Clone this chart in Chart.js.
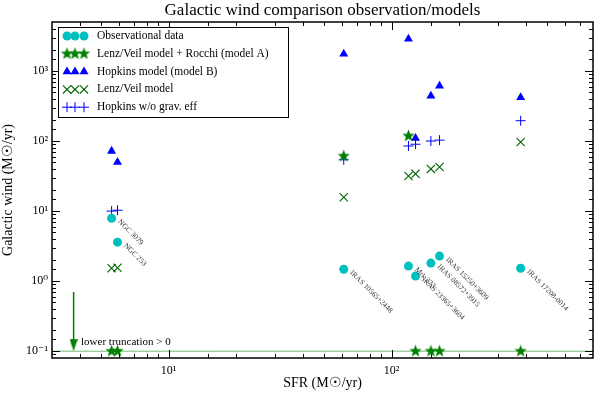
<!DOCTYPE html>
<html>
<head>
<meta charset="utf-8">
<script src="https://cdn.jsdelivr.net/npm/chart.js@4.4.1/dist/chart.umd.min.js"></script>
<style>
  html, body { margin: 0; padding: 0; background: #fff; }
  #wrap { width: 600px; height: 394px; }
</style>
</head>
<body>
<div id="wrap"><canvas id="chart-wind"></canvas></div>
<script>
/* SFR of the sample (Msun/yr) and the wind rates */
const sfr = [5.55, 5.9, 61, 119, 128, 150, 164, 379]
const galaxyNames = ['NGC 3079', 'NGC 253', 'IRAS 10565+2448', 'Mrk 273', 'IRAS 23365+3604',
                     'IRAS 08572+3915', 'IRAS 15250+3609', 'IRAS 17208-0014']
const obsWind = [7.9, 3.6, 1.48, 1.64, 1.18, 1.81, 2.28, 1.53]
const modelA = [0.1, 0.1, 61, 118, 0.1, 0.1, 0.1, 0.1]
const modelB = [72, 50, 1750, 2870, 110, 440, 610, 420]
const lenzVeil = [1.53, 1.55, 15.8, 31.6, 34, 40, 42.6, 97]
const hopkinsNoGrav = [10, 10.3, 54, 85, 90, 100, 103, 195]

const seriesNames = ['Observational data', 'Lenz/Veil model + Rocchi (model A)',
                     'Hopkins model (model B)', 'Lenz/Veil model', 'Hopkins w/o grav. eff']

/* lower truncation line and arrow */
const floorLine = [{ x: 3, y: 0.1 }, { x: 800, y: 0.1 }]
const arrowShaft = [{ x: 3.75, y: 0.7 }, { x: 3.75, y: 0.13 }]
const arrowHead = [{ x: 3.75, y: 0.122 }]
const limitNote = { x: 4.05, y: 0.134, text: 'lower truncation > 0' }

const xMajorTicks = [10, 100]
const xTickLabels = ['10¹', '10²']
const yMajorTicks = [0.1, 1, 10, 100, 1000]
const yTickLabels = ['10⁻¹', '10⁰', '10¹', '10²', '10³']

const serif = '"Liberation Serif", "DejaVu Serif", serif'

function makeStar(r, color) {
    const c = document.createElement('canvas')
    const s = Math.ceil(r * 2) + 2
    c.width = c.height = s
    const g = c.getContext('2d')
    g.fillStyle = color
    g.beginPath()
    for (let k = 0; k < 10; k++) {
        const rr = k % 2 ? r * 0.42 : r
        const a = -Math.PI / 2 + k * Math.PI / 5
        g.lineTo(s / 2 + rr * Math.cos(a), s / 2 + rr * Math.sin(a))
    }
    g.closePath()
    g.fill()
    return c
}

function makeArrowHead(w, h, color) {
    const c = document.createElement('canvas')
    c.width = w; c.height = h * 2
    const g = c.getContext('2d')
    g.fillStyle = color
    g.beginPath()
    g.moveTo(0, h / 2); g.lineTo(w, h / 2); g.lineTo(w / 2, h * 1.5)
    g.closePath()
    g.fill()
    return c
}

function tickLabel(value, majors, labels) {
    const i = majors.findIndex(t => Math.abs(t - value) / t < 1e-6)
    return i >= 0 ? labels[i] : ''
}

const pts = arr => sfr.map((x, i) => ({ x: x, y: arr[i] }))

/* frame, inward ticks on all sides, title, labels, legend */
const decorations = {
    id: 'decorations',
    afterDatasetsDraw(chart) {
        const ctx = chart.ctx
        const a = chart.chartArea
        const xs = chart.scales.x, ys = chart.scales.y

        // galaxy names, rotated
        const meta = chart.getDatasetMeta(0)
        ctx.save()
        ctx.fillStyle = '#333'
        ctx.font = '7.5px ' + serif
        ctx.textBaseline = 'middle'
        meta.data.forEach((p, i) => {
            ctx.save()
            ctx.translate(p.x + 6, p.y + 1)
            ctx.rotate(Math.PI / 4)
            ctx.fillText(galaxyNames[i], 2, 0)
            ctx.restore()
        })
        ctx.restore()

        // note next to the arrow
        ctx.save()
        ctx.fillStyle = '#000'
        ctx.font = '11px ' + serif
        ctx.textBaseline = 'middle'
        ctx.fillText(limitNote.text, xs.getPixelForValue(limitNote.x), ys.getPixelForValue(limitNote.y))
        ctx.restore()

        // ticks
        ctx.save()
        ctx.strokeStyle = '#000'
        ctx.lineWidth = 1
        xs.ticks.forEach(t => {
            const px = Math.round(xs.getPixelForValue(t.value)) + 0.5
            if (px < a.left + 1 || px > a.right - 1) return
            const len = xMajorTicks.some(m => Math.abs(m - t.value) / m < 1e-6) ? 8 : 4
            ctx.beginPath()
            ctx.moveTo(px, a.bottom); ctx.lineTo(px, a.bottom - len)
            ctx.moveTo(px, a.top); ctx.lineTo(px, a.top + len)
            ctx.stroke()
        })
        ys.ticks.forEach(t => {
            const py = Math.round(ys.getPixelForValue(t.value)) + 0.5
            if (py < a.top + 1 || py > a.bottom - 1) return
            const len = yMajorTicks.some(m => Math.abs(m - t.value) / m < 1e-6) ? 8 : 4
            ctx.beginPath()
            ctx.moveTo(a.left, py); ctx.lineTo(a.left + len, py)
            ctx.moveTo(a.right, py); ctx.lineTo(a.right - len, py)
            ctx.stroke()
        })
        // frame
        ctx.lineWidth = 1.5
        ctx.strokeRect(a.left, a.top, a.right - a.left, a.bottom - a.top)
        ctx.restore()

        // title
        ctx.save()
        ctx.fillStyle = '#000'
        ctx.font = '17px ' + serif
        ctx.textAlign = 'center'
        ctx.textBaseline = 'middle'
        ctx.fillText('Galactic wind comparison observation/models', (a.left + a.right) / 2, 11)
        ctx.restore()

        // legend
        const box = { x: a.left + 6, y: a.top + 5, w: 230, h: 90 }
        ctx.save()
        ctx.fillStyle = '#fff'
        ctx.fillRect(box.x, box.y, box.w, box.h)
        ctx.strokeStyle = '#000'
        ctx.lineWidth = 1
        ctx.strokeRect(box.x + 0.5, box.y + 0.5, box.w, box.h)
        ctx.font = '11.5px ' + serif
        ctx.textBaseline = 'middle'
        seriesNames.forEach((name, i) => {
            const ds = chart.data.datasets[i]
            const yy = box.y + 9 + i * 17.8
            ;[9, 17, 26].forEach(dx => {
                ctx.fillStyle = ds.backgroundColor
                ctx.strokeStyle = ds.borderColor
                ctx.lineWidth = ds.borderWidth
                Chart.helpers.drawPoint(ctx, {
                    pointStyle: ds.pointStyle, radius: ds.pointRadius,
                    rotation: 0, borderWidth: ds.borderWidth
                }, box.x + dx, yy)
            })
            ctx.fillStyle = '#000'
            ctx.fillText(name, box.x + 39, yy)
        })
        ctx.restore()
    }
}

const green = '#008000'
const darkGreen = '#006400'
const blue = '#0000ff'
const cyan = '#00bfbf'

new Chart(document.getElementById('chart-wind'), {
    type: 'scatter',
    data: {
        datasets: [
            { label: seriesNames[0], data: pts(obsWind), pointStyle: 'circle', pointRadius: 4.5,
              backgroundColor: cyan, borderColor: cyan, borderWidth: 0 },
            { label: seriesNames[1], data: pts(modelA), pointStyle: makeStar(6.5, green), pointRadius: 6,
              backgroundColor: green, borderColor: green, borderWidth: 0 },
            { label: seriesNames[2], data: pts(modelB), pointStyle: 'triangle', pointRadius: 5.2,
              backgroundColor: blue, borderColor: blue, borderWidth: 0 },
            { label: seriesNames[3], data: pts(lenzVeil), pointStyle: 'crossRot', pointRadius: 5.8,
              backgroundColor: darkGreen, borderColor: darkGreen, borderWidth: 1.1 },
            { label: seriesNames[4], data: pts(hopkinsNoGrav), pointStyle: 'cross', pointRadius: 5,
              backgroundColor: blue, borderColor: blue, borderWidth: 1 },
            { data: floorLine, showLine: true, pointRadius: 0, borderColor: 'rgba(0,128,0,0.55)',
              borderWidth: 1 },
            { data: arrowShaft, showLine: true, pointRadius: 0, borderColor: green, borderWidth: 1.5 },
            { data: arrowHead, pointStyle: makeArrowHead(8, 12, green), pointRadius: 6,
              backgroundColor: green, borderColor: green }
        ]
    },
    options: {
        responsive: true,
        maintainAspectRatio: false,
        animation: false,
        layout: { padding: { top: 22, right: 5, left: 0, bottom: 0 } },
        plugins: {
            legend: { display: false },
            tooltip: { enabled: false },
            title: { display: false }
        },
        scales: {
            x: {
                type: 'logarithmic', min: 3, max: 800,
                grid: { display: false, drawTicks: false },
                border: { display: false },
                ticks: {
                    autoSkip: false, maxRotation: 0, padding: 6,
                    font: { family: serif, size: 12 }, color: '#000',
                    callback: v => tickLabel(v, xMajorTicks, xTickLabels)
                },
                title: { display: true, text: 'SFR (M☉/yr)', color: '#000',
                         font: { family: serif, size: 14 }, padding: { top: 0, bottom: 2 } },
                afterFit: s => { s.height = 36 }
            },
            y: {
                type: 'logarithmic', min: 0.08, max: 5000,
                grid: { display: false, drawTicks: false },
                border: { display: false },
                ticks: {
                    autoSkip: false, padding: 4,
                    font: { family: serif, size: 12 }, color: '#000',
                    callback: v => tickLabel(v, yMajorTicks, yTickLabels)
                },
                title: { display: true, text: 'Galactic wind (M☉/yr)', color: '#000',
                         font: { family: serif, size: 14 }, padding: { top: 0, bottom: 0 } },
                afterFit: s => { s.width = 52 }
            }
        }
    },
    plugins: [decorations]
})
</script>
</body>
</html>
